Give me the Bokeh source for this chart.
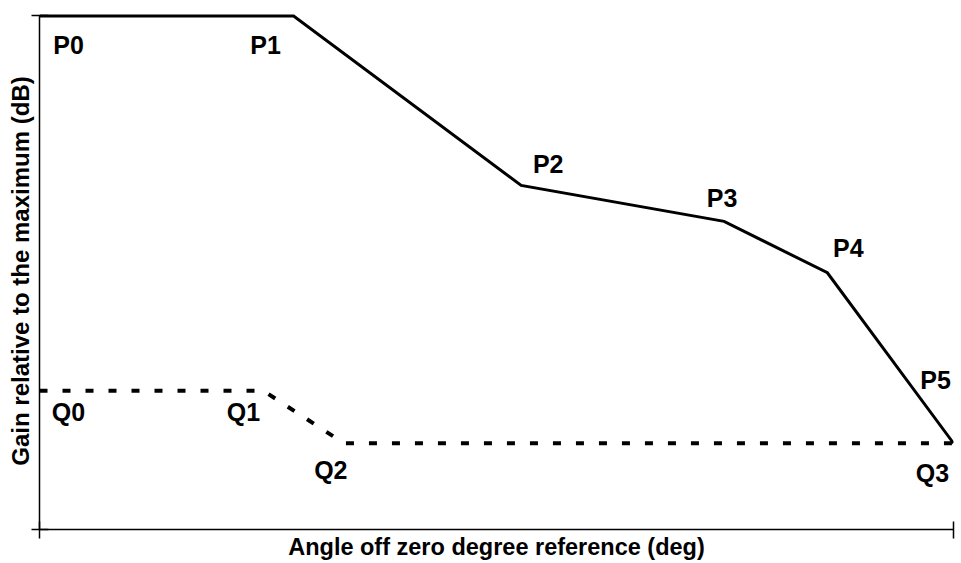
from bokeh.plotting import figure
from bokeh.models import Range1d, FixedTicker, ColumnDataSource, LabelSet
from bokeh.core.properties import value
from bokeh.embed import file_html
from bokeh.resources import INLINE

# ---- data (angle in arbitrary units, gain in dB relative to maximum) ----
p_names = ["P0", "P1", "P2", "P3", "P4", "P5"]
p_angle = [0, 27.8, 52.7, 74.9, 86.2, 100]
p_gain = [0, 0, -16.5, -20, -25, -41.6]

q_names = ["Q0", "Q1", "Q2", "Q3"]
q_angle = [0, 24.5, 33.3, 100]
q_gain = [-36.5, -36.5, -41.6, -41.6]

x_ticks = [0, 100]
y_ticks = [-50, 0]

x_title = "Angle off zero degree reference (deg)"
y_title = "Gain relative to the maximum (dB)"

# label offsets in screen pixels (x right, y up)
p_dx = [29, -28, 27, -2, 21, -18]
p_dy = [-29, -29, 21, 23, 25, 63]
q_dx = [29, -20, -13, -21]
q_dy = [-21, -21, -27, -30]

FONT = "Liberation Sans"

p = figure(width=958, height=562,
           x_range=Range1d(0, 100), y_range=Range1d(-50, 0.34),
           output_backend="svg", toolbar_location=None,
           min_border_left=39, min_border_right=5,
           min_border_top=12, min_border_bottom=31)
p.grid.visible = False
p.outline_line_color = None
p.background_fill_color = "white"
p.border_fill_color = "white"

for ax, ticks, bnds, tin, tout, title, stand, fs in (
        (p.xaxis, x_ticks, (0, 100), 8, 9, x_title, -5, "23.5px"),
        (p.yaxis, y_ticks, (-50, 0), 9, 8, y_title, -2, "24px")):
    ax.ticker = FixedTicker(ticks=ticks)
    ax.bounds = bnds
    ax.major_tick_in = tin
    ax.major_tick_out = tout
    ax.minor_tick_line_color = None
    ax.major_label_text_font_size = "0px"
    ax.major_label_text_color = None
    ax.major_label_standoff = 0
    ax.axis_line_width = 1.5
    ax.axis_line_color = "black"
    ax.major_tick_line_width = 1.5
    ax.major_tick_line_color = "black"
    ax.axis_label = title
    ax.axis_label_standoff = stand
    ax.axis_label_text_font = FONT
    ax.axis_label_text_font_style = "bold"
    ax.axis_label_text_font_size = fs
    ax.axis_label_text_color = "black"

p.line(p_angle, p_gain, line_width=3, line_color="black", line_join="miter")
p.line(q_angle, q_gain, line_width=4, line_color="black",
       line_dash="8 15", line_cap="butt")

src_p = ColumnDataSource(dict(x=p_angle, y=p_gain, t=p_names, dx=p_dx, dy=p_dy))
src_q = ColumnDataSource(dict(x=q_angle, y=q_gain, t=q_names, dx=q_dx, dy=q_dy))
for src in (src_p, src_q):
    p.add_layout(LabelSet(x="x", y="y", text="t", source=src,
                          x_offset="dx", y_offset="dy",
                          text_align="center", text_baseline="middle",
                          text_font=value(FONT), text_font_style="bold",
                          text_font_size="25px", text_color="black"))

open("out.html", "w").write(file_html(p, INLINE))
